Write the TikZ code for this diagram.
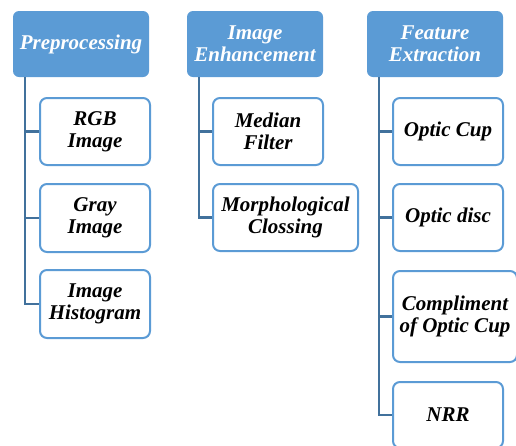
\documentclass[tikz,border=0pt]{standalone}
\usepackage{fontspec}
\setmainfont{Liberation Serif}
\definecolor{hdr}{HTML}{5B9BD5}
\definecolor{bord}{HTML}{5B9BD5}
\definecolor{conn}{HTML}{41719C}
\begin{document}
\begin{tikzpicture}[x=1pt,y=-1pt,
  txt/.style={font=\fontsize{21}{21.6}\selectfont\bfseries\itshape, align=center, inner sep=0pt},
  head/.style={txt, fill=hdr, text=white, rounded corners=6pt, minimum width=136pt, minimum height=66pt},
  child/.style={txt, draw=bord, line width=2pt, fill=white, rounded corners=7pt, text=black},
  link/.style={draw=conn, line width=2.5pt}]
\useasboundingbox (0,0) rectangle (516,445);
\clip (0,0) rectangle (516,445);
% headers
\node[head] (h1) at (81,44) {Preprocessing};
\node[head] (h2) at (255,44) {Image\\Enhancement};
\node[head] (h3) at (435,44) {Feature\\Extraction};
% trunk coordinates
\coordinate (c1) at (25,77);
\coordinate (c2) at (199,77);
\coordinate (c3) at (379,77);
% column 1
\node[child, minimum width=110pt, minimum height=67pt] (rgb) at (95,131.5) {RGB\\Image};
\node[child, minimum width=110pt, minimum height=68pt] (gray) at (95,218) {Gray\\Image};
\node[child, minimum width=110pt, minimum height=68pt] (hist) at (95,304) {Image\\Histogram};
% column 2
\node[child, minimum width=110pt, minimum height=67pt] (med) at (268,131.5) {Median\\Filter};
\node[child, minimum width=145pt, minimum height=67pt] (morph) at (285.5,217.5) {Morphological\\Clossing};
% column 3
\node[child, minimum width=110pt, minimum height=67pt] (cup) at (448,131.5) {Optic Cup};
\node[child, minimum width=110pt, minimum height=67pt] (disc) at (448,217.5) {Optic disc};
\node[child, minimum width=124pt, minimum height=91pt] (comp) at (455,316.5) {Compliment\\of Optic Cup};
\node[child, minimum width=110pt, minimum height=66pt] (nrr) at (448,415) {NRR};
% connectors
\draw[link] (c1) |- (rgb.west);
\draw[link] (c1) |- (gray.west);
\draw[link] (c1) |- (hist.west);
\draw[link] (c2) |- (med.west);
\draw[link] (c2) |- (morph.west);
\draw[link] (c3) |- (cup.west);
\draw[link] (c3) |- (disc.west);
\draw[link] (c3) |- (comp.west);
\draw[link] (c3) |- (nrr.west);
\end{tikzpicture}
\end{document}
